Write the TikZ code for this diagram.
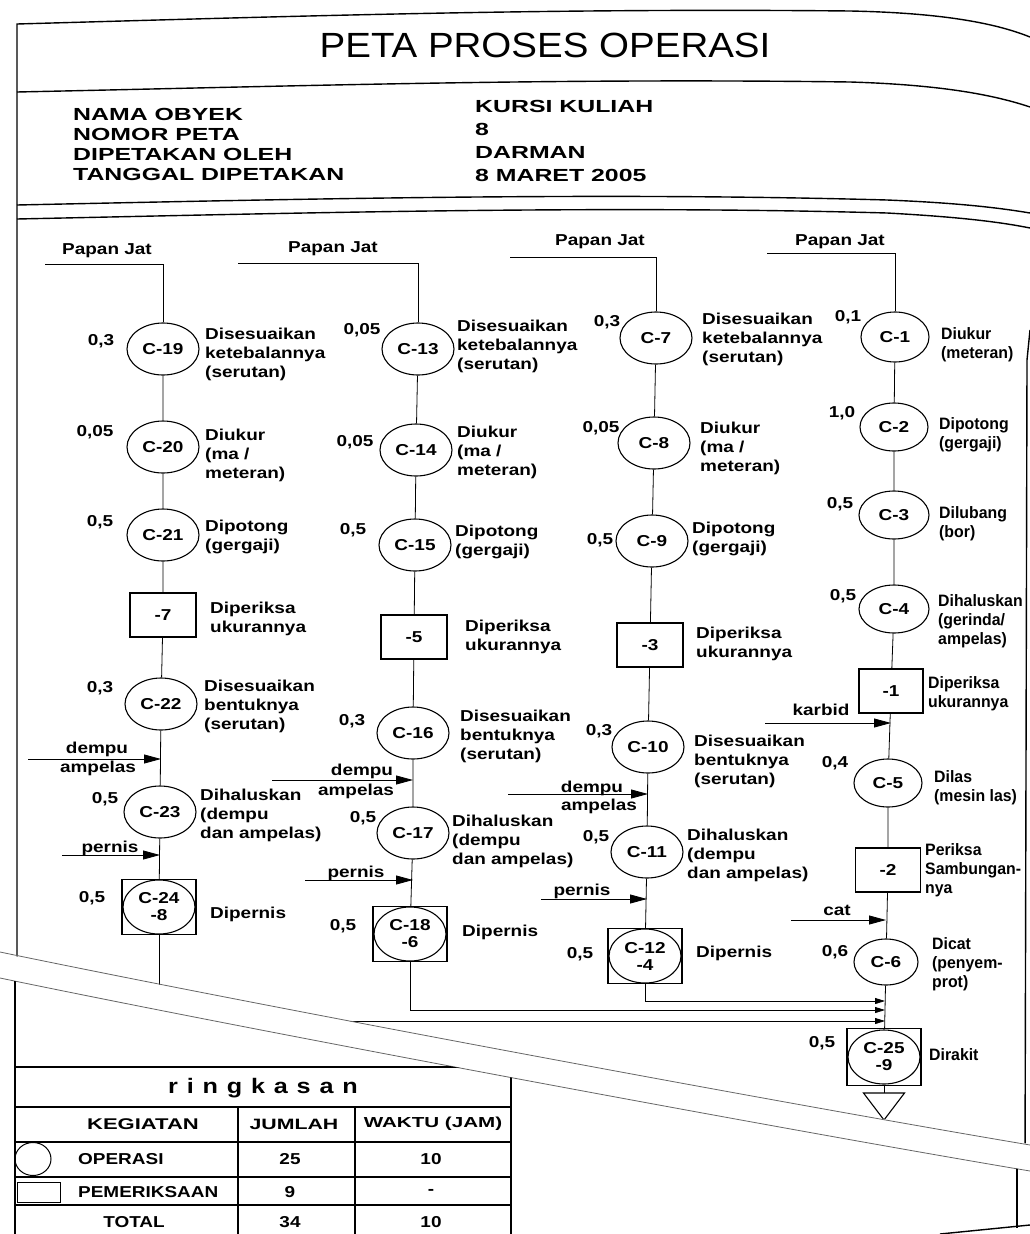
\documentclass[tikz,border=0pt]{standalone}
\usepackage{fontspec}
\setmainfont[FakeStretch=1.2]{Liberation Sans}
\newfontfamily\headfont[FakeStretch=1.42]{Liberation Sans}
\newfontfamily\titlefont[FakeStretch=1.1]{Liberation Sans}
\newfontfamily\narrowfont[FakeStretch=0.96]{Liberation Sans}
\newfontfamily\sumfont[FakeStretch=1.2,LetterSpace=42]{Liberation Sans}
\usetikzlibrary{shapes.geometric,arrows.meta,positioning}
\tikzset{
  op/.style={draw,ellipse,line width=1.1pt,minimum width=72pt,minimum height=52pt,inner sep=0pt},
  insp/.style={draw,rectangle,line width=1.1pt,minimum width=66pt,minimum height=44pt,inner sep=0pt},
  opinsp/.style={draw,rectangle,line width=1.1pt,minimum width=74pt,minimum height=55pt,inner sep=0pt,
    align=center,font=\bfseries\fontsize{15.8}{17}\selectfont,
    path picture={\draw[line width=1.1pt] (path picture bounding box.center) ellipse [x radius=36pt,y radius=27pt];}},
  desc/.style={anchor=north west,align=left,inner sep=0pt},
  desc4/.style={desc,font=\narrowfont\bfseries\fontsize{16.5}{19}\selectfont},
  flow/.style={line width=0.8pt},
  feed/.style={line width=0.8pt,-{Triangle[length=17pt,width=9pt]}},
  merge/.style={line width=0.8pt,-{Triangle[length=10pt,width=6pt]}},
  pageline/.style={line width=1.4pt},
  tabline/.style={line width=1.1pt},
  fold/.style={line width=0.8pt,black!60},
}
\begin{document}
\begin{tikzpicture}[x=1pt,y=-1pt,font=\bfseries\fontsize{15.8}{19}\selectfont]
\useasboundingbox (0,0) rectangle (1030,1234);
% outline
\draw[pageline] (17,960) -- (17,24) .. controls (300,16) and (550,8) .. (850,11)
  .. controls (950,13) and (1000,25) .. (1030,37);
\draw[pageline] (17,92) .. controls (300,86) and (550,78) .. (850,82)
  .. controls (950,85) and (1000,97) .. (1030,107);
\draw[pageline] (17,205) .. controls (300,199) and (600,192) .. (887,200)
  .. controls (960,203) and (1000,208) .. (1030,213);
\draw[pageline] (17,219) .. controls (300,213) and (600,205) .. (887,213)
  .. controls (960,217) and (1000,222) .. (1030,228);
\draw[pageline] (1030,330) -- (1027,360) -- (1025,1170);

% header
\node[font=\titlefont\fontsize{35}{40}\selectfont] (judul) at (545,45) {PETA PROSES OPERASI};
\node[desc,font=\headfont\bfseries\fontsize{17.5}{20}\selectfont] (kiri) at (73,108)
  {NAMA OBYEK\\NOMOR PETA\\DIPETAKAN OLEH\\TANGGAL DIPETAKAN};
\node[desc,font=\headfont\bfseries\fontsize{17.5}{23}\selectfont] (kanan) at (475,100)
  {KURSI KULIAH\\8\\DARMAN\\8 MARET 2005};

% kolom 1
\node (pj1) at (107,251) {Papan Jat};
\coordinate (s1) at (45,264);
\node[op] (c19) at (163,349) {C-19};
\node (t19) at (101,341) {0,3};
\node[desc] (d19) at (205,328) {Disesuaikan\\ketebalannya\\(serutan)};
\node[op] (c20) at (163,447) {C-20};
\node (t20) at (95,432) {0,05};
\node[desc] (d20) at (205,429) {Diukur\\(ma /\\meteran)};
\node[op] (c21) at (163,535) {C-21};
\node (t21) at (100,522) {0,5};
\node[desc] (d21) at (205,520) {Dipotong\\(gergaji)};
\node[insp] (i7) at (163,615) {-7};
\node[desc] (e7) at (210,602) {Diperiksa\\ukurannya};
\node[op] (c22) at (161,704) {C-22};
\node (t22) at (100,688) {0,3};
\node[desc] (d22) at (204,680) {Disesuaikan\\bentuknya\\(serutan)};
\node[op] (c23) at (160,812) {C-23};
\node (t23) at (105,799) {0,5};
\node[desc] (d23) at (200,789) {Dihaluskan\\(dempu\\dan ampelas)};
\node[opinsp] (c24) at (159,907) {C-24\\-8};
\node (t24) at (92,898) {0,5};
\node[anchor=west,inner sep=0pt] (d24) at (210,914) {Dipernis};
\draw[flow] (s1) -| (c19);
\draw[flow] (c19) -- (c20) -- (c21) -- (i7) -- (c22) -- (c23) -- (c24);
\coordinate (a1) at (28,759);
\draw[feed] (a1) -- (a1 -| c22);
\node[anchor=base] (a1u) at (97,753) {dempu};
\node[anchor=base] (a1l) at (98,772) {ampelas};
\coordinate (p1) at (62,855);
\draw[feed] (p1) -- (p1 -| c23);
\node[anchor=base] (p1u) at (110,852) {pernis};

% kolom 2
\node (pj2) at (333,249) {Papan Jat};
\coordinate (s2) at (238,263);
\node[op] (c13) at (418,349) {C-13};
\node (t13) at (362,330) {0,05};
\node[desc] (d13) at (457,320) {Disesuaikan\\ketebalannya\\(serutan)};
\node[op] (c14) at (416,450) {C-14};
\node (t14) at (355,442) {0,05};
\node[desc] (d14) at (457,426) {Diukur\\(ma /\\meteran)};
\node[op] (c15) at (415,545) {C-15};
\node (t15) at (353,530) {0,5};
\node[desc] (d15) at (455,525) {Dipotong\\(gergaji)};
\node[insp] (i5) at (414,637) {-5};
\node[desc] (e5) at (465,620) {Diperiksa\\ukurannya};
\node[op] (c16) at (413,733) {C-16};
\node (t16) at (352,721) {0,3};
\node[desc] (d16) at (460,710) {Disesuaikan\\bentuknya\\(serutan)};
\node[op] (c17) at (413,833) {C-17};
\node (t17) at (363,818) {0,5};
\node[desc] (d17) at (452,815) {Dihaluskan\\(dempu\\dan ampelas)};
\node[opinsp] (c18) at (410,934) {C-18\\-6};
\node (t18) at (343,926) {0,5};
\node[anchor=west,inner sep=0pt] (d18) at (462,932) {Dipernis};
\draw[flow] (s2) -| (c13);
\draw[flow] (c13) -- (c14) -- (c15) -- (i5) -- (c16) -- (c17) -- (c18);
\coordinate (a2) at (272,780);
\draw[feed] (a2) -- (a2 -| c16);
\node[anchor=base] (a2u) at (362,775) {dempu};
\node[anchor=base] (a2l) at (356,795) {ampelas};
\coordinate (p2) at (305,880);
\draw[feed] (p2) -- (p2 -| c17);
\node[anchor=base] (p2u) at (356,877) {pernis};

% kolom 3
\node (pj3) at (600,242) {Papan Jat};
\coordinate (s3) at (510,257);
\node[op] (c7) at (656,338) {C-7};
\node (t7) at (607,322) {0,3};
\node[desc] (d7) at (702,313) {Disesuaikan\\ketebalannya\\(serutan)};
\node[op] (c8) at (654,443) {C-8};
\node (t8) at (601,428) {0,05};
\node[desc] (d8) at (700,422) {Diukur\\(ma /\\meteran)};
\node[op] (c9) at (652,541) {C-9};
\node (t9) at (600,540) {0,5};
\node[desc] (d9) at (692,522) {Dipotong\\(gergaji)};
\node[insp] (i3) at (650,645) {-3};
\node[desc] (e3) at (696,627) {Diperiksa\\ukurannya};
\node[op] (c10) at (648,747) {C-10};
\node (t10) at (599,731) {0,3};
\node[desc] (d10) at (694,735) {Disesuaikan\\bentuknya\\(serutan)};
\node[op] (c11) at (647,852) {C-11};
\node (t11) at (596,837) {0,5};
\node[desc] (d11) at (687,829) {Dihaluskan\\(dempu\\dan ampelas)};
\node[opinsp] (c12) at (645,956) {C-12\\-4};
\node (t12) at (580,954) {0,5};
\node[anchor=west,inner sep=0pt] (d12) at (696,953) {Dipernis};
\draw[flow] (s3) -| (c7);
\draw[flow] (c7) -- (c8) -- (c9) -- (i3) -- (c10) -- (c11) -- (c12);
\coordinate (a3) at (508,794);
\draw[feed] (a3) -- (a3 -| c10);
\node[anchor=base] (a3u) at (592,792) {dempu};
\node[anchor=base] (a3l) at (599,810) {ampelas};
\coordinate (p3) at (541,899);
\draw[feed] (p3) -- (p3 -| c11);
\node[anchor=base] (p3u) at (582,895) {pernis};

% kolom 4
\node (pj4) at (840,242) {Papan Jat};
\coordinate (s4) at (767,253);
\node[op,minimum width=68pt,minimum height=50pt] (c1) at (895,337) {C-1};
\node (t1) at (848,317) {0,1};
\node[desc4] (d1) at (941,327) {Diukur\\(meteran)};
\node[op,minimum width=68pt,minimum height=48pt] (c2) at (894,427) {C-2};
\node (t2) at (842,413) {1,0};
\node[desc4] (d2) at (939,417) {Dipotong\\(gergaji)};
\node[op,minimum width=70pt,minimum height=48pt] (c3) at (894,515) {C-3};
\node (t3) at (840,504) {0,5};
\node[desc4] (d3) at (939,506) {Dilubang\\(bor)};
\node[op,minimum width=70pt,minimum height=48pt] (c4) at (894,609) {C-4};
\node (t4) at (843,596) {0,5};
\node[desc4] (d4) at (938,594) {Dihaluskan\\(gerinda/\\ampelas)};
\node[insp,minimum width=64pt] (i1) at (891,691) {-1};
\node[desc4] (e1) at (928,676) {Diperiksa\\ukurannya};
\node[op,minimum width=68pt,minimum height=48pt] (c5) at (888,783) {C-5};
\node (t5) at (835,763) {0,4};
\node[desc4] (d5) at (934,770) {Dilas\\(mesin las)};
\node[insp,minimum width=65pt] (i2) at (888,870) {-2};
\node[desc4] (e2) at (925,843) {Periksa\\Sambungan-\\nya};
\node[op,minimum width=64pt,minimum height=46pt] (c6) at (886,962) {C-6};
\node (t6) at (835,952) {0,6};
\node[desc4] (d6) at (932,937) {Dicat\\(penyem-\\prot)};
\node[opinsp,minimum height=57pt] (c25) at (884,1057) {C-25\\-9};
\node (t25) at (822,1043) {0,5};
\node[anchor=west,inner sep=0pt,font=\narrowfont\bfseries\fontsize{16.5}{19}\selectfont] (d25) at (929,1055) {Dirakit};
\draw[flow] (s4) -| (c1);
\draw[flow] (c1) -- (c2) -- (c3) -- (c4) -- (i1) -- (c5) -- (i2) -- (c6) -- (c25);
\coordinate (k4) at (765,723);
\draw[feed] (k4) -- (k4 -| i1);
\node[anchor=base] (k4u) at (821,715) {karbid};
\coordinate (m4) at (791,920);
\draw[feed] (m4) -- (m4 -| c6);
\node[anchor=base] (m4u) at (837,915) {cat};
\coordinate (j3) at (885,1001);
\coordinate (j2) at (885,1010);
\coordinate (j1) at (885,1021);
\draw[merge] (c12) |- (j3);
\draw[merge] (c18) |- (j2);
\draw[merge] (c24) |- (j1);
\coordinate (tri) at (884,1093);
\draw[flow] (c25) -- (tri);
\draw[line width=1.1pt] (tri) ++(-20.5,0) -- ++(41,0) -- (884,1120) -- cycle;

% lipatan
\fill[white] (-5,952) .. controls (260,1006) and (780,1103) .. (1035,1145)
  -- (1035,1240) -- (-5,1240) -- cycle;
\draw[fold] (0,952) .. controls (260,1006) and (780,1103) .. (1030,1145);
\draw[fold] (0,978) .. controls (260,1032) and (780,1129) .. (1030,1171);

% ringkasan
\begin{scope}
\clip (0,978) .. controls (260,1032) and (780,1129) .. (1030,1171)
  -- (1030,1234) -- (0,1234) -- cycle;
\draw[pageline] (15,960) -- (15,1240);
\draw[pageline] (1017,1150) -- (1017,1228);
\draw[pageline] (940,1234) -- (1030,1225);
\draw[tabline] (15,1067) -- (511,1067) -- (511,1240);
\draw[tabline] (15,1107) -- (511,1107);
\draw[tabline] (15,1142) -- (511,1142);
\draw[tabline] (15,1177) -- (511,1177);
\draw[tabline] (15,1205) -- (511,1205);
\draw[tabline] (238,1107) -- (238,1240);
\draw[tabline] (355,1107) -- (355,1240);
\node[font=\sumfont\bfseries\fontsize{21}{24}\selectfont] (ring) at (263,1088) {ringkasan};
\node[font=\headfont\bfseries\fontsize{15.5}{19}\selectfont] (keg) at (143,1124) {KEGIATAN};
\node[font=\headfont\bfseries\fontsize{15}{19}\selectfont] (jml) at (294,1124) {JUMLAH};
\node[font=\headfont\bfseries\fontsize{14.5}{19}\selectfont] (wkt) at (433,1124) {WAKTU (JAM)};
\node[draw,ellipse,line width=1pt,minimum width=36pt,minimum height=33pt,inner sep=0pt] (symop) at (33,1159) {};
\node[anchor=west,inner sep=0pt] (lop) at (78,1159) {OPERASI};
\node (nop) at (290,1159) {25};
\node (wop) at (431,1159) {10};
\node[draw,line width=1pt,minimum width=43pt,minimum height=20pt,inner sep=0pt] (symin) at (39,1192) {};
\node[anchor=west,inner sep=0pt] (lin) at (78,1192) {PEMERIKSAAN};
\node (nin) at (290,1192) {9};
\node (win) at (431,1192) {-};
\node (ltot) at (134,1222) {TOTAL};
\node (ntot) at (290,1222) {34};
\node (wtot) at (431,1222) {10};
\end{scope}
\end{tikzpicture}
\end{document}
